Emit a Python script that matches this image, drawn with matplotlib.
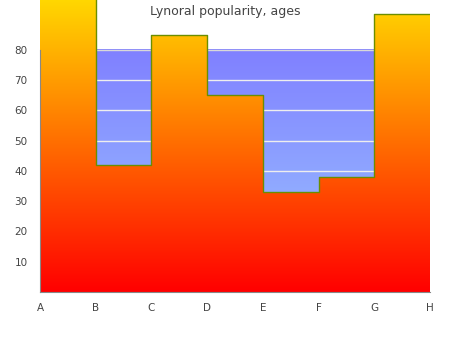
import numpy as np
import matplotlib.pyplot as plt
from matplotlib.colors import LinearSegmentedColormap

# step heights per interval A-B, B-C, ... G-H
labels = ["A", "B", "C", "D", "E", "F", "G", "H"]
popularity = [100, 42, 85, 65, 33, 38, 92]
yticks = [10, 20, 30, 40, 50, 60, 70, 80]

top_val = 96.5
x = np.arange(len(labels))
y = popularity + [popularity[-1]]

fig = plt.figure(figsize=(4.5, 3.5), dpi=100)
ax = fig.add_axes([40 / 450, 1 - 292 / 350, 390 / 450, 292 / 350])
ax.set_xlim(0, 7)
ax.set_ylim(0, top_val)

# blue gradient plot area up to 80
blue = LinearSegmentedColormap.from_list("bg", ["#9cc8ff", "#8080ff"])
grad = np.linspace(0, 1, 256).reshape(-1, 1)
ax.imshow(grad, cmap=blue, origin="lower", aspect="auto",
          extent=[0, 7, 0, 80], zorder=0)
for t in yticks[:-1]:
    ax.axhline(t, color="#eeeeee", lw=1, zorder=1)
ax.axhline(80, xmin=0, xmax=1, color="#d8d8d8", lw=1, zorder=1)

# red-to-gold filled steps
poly = ax.fill_between(x, 0, y, step="post", color="none", zorder=2)
warm = LinearSegmentedColormap.from_list("warm", ["#ff0000", "#ffd700"])
img = ax.imshow(grad, cmap=warm, origin="lower", aspect="auto",
                extent=[0, 7, 0, top_val], zorder=2)
img.set_clip_path(poly.get_paths()[0], transform=ax.transData)
ax.step(x, y, where="post", color="#6b8e00", lw=1, zorder=3)

for s in ["top", "right"]:
    ax.spines[s].set_visible(False)
ax.spines["left"].set_bounds(0, 80)
ax.spines["left"].set_color("#888888")
ax.spines["bottom"].set_color("#888888")
ax.spines["left"].set_zorder(4)

ax.set_yticks(yticks)
ax.set_xticks(x)
ax.set_xticklabels(labels)
ax.tick_params(length=0, labelsize=7.5, labelcolor="#444444")
ax.tick_params(axis="x", pad=8)
ax.tick_params(axis="y", pad=9)

fig.text(0.5, 1 - 12 / 350, "Lynoral popularity, ages", ha="center",
         va="center", fontsize=9, color="#444444")

fig.savefig("out.png", dpi=100)
